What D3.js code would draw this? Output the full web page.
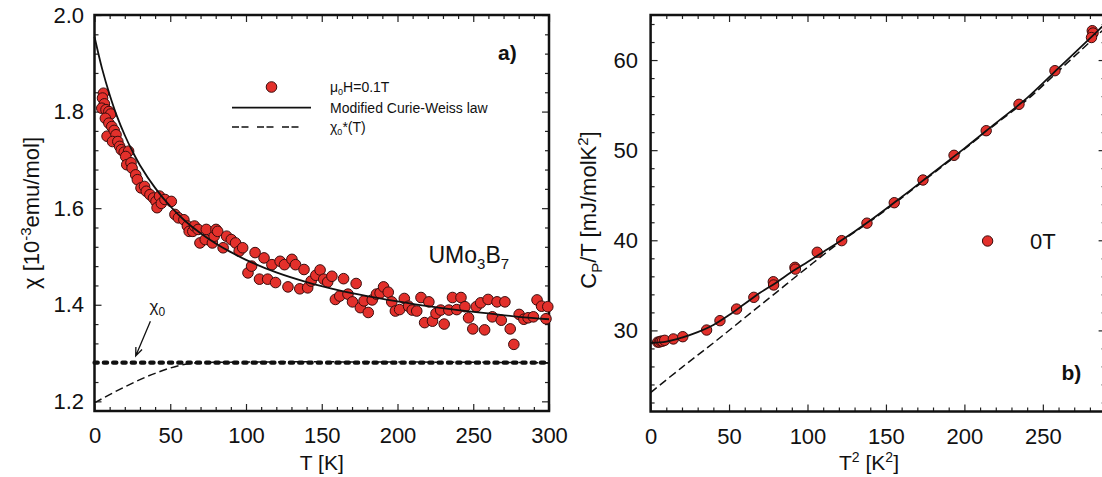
<!DOCTYPE html>
<html>
<head>
<meta charset="utf-8">
<script src="https://cdn.jsdelivr.net/npm/d3@7"></script>
<style>
  body { margin: 0; background: #fff; }
  text { font-family: "Liberation Sans", Arial, sans-serif; fill: #111; }
  .frame { fill: none; stroke: #111; stroke-width: 2.5; }
  .tick line { stroke: #222; stroke-width: 1.2; }
  .domain { display: none; }
  .dot { fill: #e3302b; stroke: #3a0d0d; stroke-width: 1; }
  .fit { fill: none; stroke: #111; stroke-width: 1.8; }
  .dash { fill: none; stroke: #111; stroke-width: 1.5; stroke-dasharray: 8,4; }
</style>
</head>
<body>
<svg width="1102" height="477"></svg>
<script>
// ---- panel a) chi(T)
var chiTemps = [5.9,5.3,6.5,4.8,7.6,9.5,10.7,7.2,9.5,11.4,8.3,13.0,14.2,11.9,15.4,16.6,17.7,19.6,22.5,20.6,
  21.3,24.1,24.8,27.2,28.3,30.7,33.0,34.2,36.6,38.9,40.6,42.9,41.3,44.1,46.5,50.7,53.1,55.4,59.0,61.3,
  62.5,64.9,66.0,68.4,69.6,73.1,73.8,77.8,79.0,80.2,81.3,84.9,87.2,90.3,93.1,95.5,97.8,101.3,103.7,106.0,
  108.9,111.9,114.3,117.1,119.5,122.5,125.4,127.7,130.3,132.7,135.5,138.3,140.7,143.0,146.1,148.9,151.3,153.9,156.7,159.0,
  161.9,164.4,167.3,170.3,172.7,175.5,177.9,180.7,183.3,186.1,188.5,190.8,193.9,196.2,198.6,201.4,204.5,207.3,209.7,212.7,
  215.5,217.9,220.7,223.1,225.4,228.5,230.8,233.9,236.3,239.1,241.9,244.5,246.9,249.7,252.0,254.9,257.5,259.8,262.6,265.7,
  268.5,270.9,274.4,276.8,280.3,283.4,286.2,289.7,292.1,295.1,298.0,299.2];
var chiValues = [1.838,1.828,1.816,1.807,1.804,1.800,1.795,1.786,1.776,1.769,1.749,1.761,1.752,1.738,1.738,1.728,1.721,1.716,1.718,1.707,
  1.690,1.694,1.683,1.669,1.659,1.642,1.645,1.635,1.628,1.621,1.614,1.625,1.601,1.610,1.618,1.614,1.587,1.580,1.576,1.563,
  1.552,1.552,1.563,1.556,1.528,1.535,1.556,1.528,1.542,1.556,1.552,1.518,1.542,1.535,1.528,1.511,1.518,1.466,1.480,1.508,
  1.453,1.497,1.453,1.483,1.446,1.490,1.483,1.437,1.494,1.483,1.433,1.473,1.435,1.449,1.461,1.472,1.453,1.447,1.459,1.411,
  1.418,1.454,1.422,1.406,1.444,1.394,1.408,1.384,1.410,1.422,1.424,1.437,1.426,1.406,1.387,1.390,1.413,1.397,1.389,1.387,
  1.415,1.363,1.406,1.366,1.382,1.389,1.360,1.389,1.415,1.390,1.415,1.396,1.373,1.350,1.396,1.404,1.348,1.411,1.375,1.406,
  1.368,1.406,1.350,1.318,1.380,1.370,1.373,1.375,1.410,1.397,1.371,1.396];

// modified Curie-Weiss curve
var cwTemps = [0,5,10,15,20,25,30,40,50,60,70,80,90,100,120,140,160,180,200,220,240,260,280,300];
var cwValues = [1.955,1.889,1.835,1.789,1.751,1.718,1.689,1.642,1.604,1.573,1.548,1.527,1.509,1.493,1.467,1.447,1.431,1.418,1.407,1.397,1.389,1.382,1.375,1.370];

// chi0*(T)
var starTemps = [0,10,20,30,40,50,60,70,300];
var starValues = [1.197,1.214,1.230,1.245,1.258,1.269,1.277,1.280,1.280];
var chi0 = 1.28;

var xTicksA = [0,50,100,150,200,250,300];
var yTicksA = [1.2,1.4,1.6,1.8,2.0];

// ---- panel b) Cp/T vs T^2
var cpT2 = [4.5,5.5,6.5,7.5,9,14.5,20.5,35.7,44.2,54.8,65.8,78.2,78.4,92.0,92.3,106.2,121.8,137.9,155.3,173.6,193.4,213.9,234.8,257.7,281.5,282.0,281.0];
var cpValues = [28.7,28.7,28.8,28.8,28.9,29.05,29.3,30.04,31.08,32.37,33.67,35.4,35.04,37.0,36.8,38.67,39.96,41.9,44.17,46.69,49.43,52.16,55.09,58.82,63.26,63.0,62.5];

var fitT2 = [0,10,20,30,40,50,60,70,80,90,100,110,120,140,160,180,200,220,240,260,280,290];
var fitValues = [28.6,28.75,29.2,29.8,30.6,31.7,32.95,34.2,35.3,36.5,37.6,38.7,39.8,42.2,44.8,47.5,50.2,53.0,55.8,59.1,62.4,64.1];

var lowT2 = [0,20,40,60,80,100,120,140,160,180,200,220,240,260,280,290];
var lowValues = [23.1,25.9,28.6,31.4,34.2,37.0,39.7,42.1,44.7,47.4,50.1,52.9,55.6,58.8,62.0,63.6];

var xTicksB = [0,50,100,150,200,250];
var yTicksB = [30,40,50,60];

var svg = d3.select('svg');
svg.append('rect').attr('width', 1102).attr('height', 477).attr('fill', '#fff');

function drawFrame(g, x, y, xMajor, xMinor, yMajor, yMinor, yFmt, yPad) {
  var w = x.range()[1], h = y.range()[0];
  function ax(axis, tx, ty, vals, size, fmt, pad) {
    var a = axis.tickValues(vals).tickSize(size).tickPadding(pad || 3).tickFormat(fmt || '');
    return g.append('g').attr('transform', 'translate(' + tx + ',' + ty + ')').call(a)
      .attr('font-size', 22).attr('font-family', null);
  }
  ax(d3.axisBottom(x), 0, h, xMajor, -7, d3.format('d'), 16.5);
  ax(d3.axisBottom(x), 0, h, xMinor, -4);
  ax(d3.axisTop(x), 0, 0, xMajor, -7);
  ax(d3.axisTop(x), 0, 0, xMinor, -4);
  ax(d3.axisLeft(y), 0, 0, yMajor, -7, yFmt, yPad);
  ax(d3.axisLeft(y), 0, 0, yMinor, -4);
  ax(d3.axisRight(y), w, 0, yMajor, -7);
  ax(d3.axisRight(y), w, 0, yMinor, -4);
  g.append('rect').attr('class', 'frame').attr('width', w).attr('height', h);
}

function minors(lo, hi, step, majors) {
  return d3.range(lo, hi + step / 2, step).filter(function(v) {
    return !majors.some(function(m) { return Math.abs(m - v) < step / 10; });
  });
}

// ================= panel a
var ga = svg.append('g').attr('transform', 'translate(94.5,15)');
var xa = d3.scaleLinear().domain([0, 300]).range([0, 454.5]);
var ya = d3.scaleLinear().domain([1.18, 2.0]).range([396, 0]);

drawFrame(ga, xa, ya, xTicksA, minors(0, 300, 10, xTicksA), yTicksA, minors(1.2, 2.0, 0.04, yTicksA),
  d3.format('.1f'), 10.5);

// chi0 thick dotted line
ga.append('line')
  .attr('x1', xa(0)).attr('x2', xa(300)).attr('y1', ya(chi0)).attr('y2', ya(chi0))
  .attr('stroke', '#111').attr('stroke-width', 4.2).attr('stroke-linecap', 'round')
  .attr('stroke-dasharray', '3.3,6');

var lineA = function(xs, ys) {
  return d3.line().curve(d3.curveCatmullRom)
    .x(function(d, i) { return xa(xs[i]); })
    .y(function(d, i) { return ya(ys[i]); })(xs);
};

ga.append('path').attr('class', 'dash').attr('d', lineA(starTemps, starValues)).attr('stroke-dasharray', '7,3.5');

ga.selectAll('circle.dot').data(chiTemps).enter().append('circle')
  .attr('class', 'dot').attr('r', 5.3)
  .attr('cx', function(d) { return xa(d); })
  .attr('cy', function(d, i) { return ya(chiValues[i]); });

ga.append('path').attr('class', 'fit').attr('d', lineA(cwTemps, cwValues));

// arrow to chi0
var ax0 = xa(36.9), ay0 = ya(1.366), ax1 = xa(27.2), ay1 = ya(1.294);
var ang = Math.atan2(ay1 - ay0, ax1 - ax0);
ga.append('path')
  .attr('d', 'M' + ax0 + ',' + ay0 + 'L' + ax1 + ',' + ay1 +
    'M' + (ax1 - 9 * Math.cos(ang - 0.38)) + ',' + (ay1 - 9 * Math.sin(ang - 0.38)) +
    'L' + ax1 + ',' + ay1 +
    'L' + (ax1 - 9 * Math.cos(ang + 0.38)) + ',' + (ay1 - 9 * Math.sin(ang + 0.38)))
  .attr('fill', 'none').attr('stroke', '#111').attr('stroke-width', 1.3);

var t0 = ga.append('text').attr('x', xa(36.3)).attr('y', ya(1.384)).attr('font-size', 17);
t0.append('tspan').text('χ');
t0.append('tspan').attr('font-size', 12).attr('dy', 4).text('0');

var tu = ga.append('text').attr('x', 334).attr('y', 248).attr('font-size', 23);
tu.append('tspan').text('UMo');
tu.append('tspan').attr('font-size', 15).attr('dy', 6).text('3');
tu.append('tspan').attr('dy', -6).text('B');
tu.append('tspan').attr('font-size', 15).attr('dy', 6).text('7');

// legend a
var lg = svg.append('g').attr('font-size', 14);
lg.append('circle').attr('class', 'dot').attr('cx', 271.5).attr('cy', 87).attr('r', 5.3);
lg.append('line').attr('x1', 232).attr('x2', 311).attr('y1', 107.7).attr('y2', 107.7).attr('stroke', '#111').attr('stroke-width', 1.8);
lg.append('line').attr('x1', 232).attr('x2', 300).attr('y1', 127).attr('y2', 127).attr('stroke', '#111').attr('stroke-width', 1.6)
  .attr('stroke-dasharray', '7,2.5,7,8.5');
var l1 = lg.append('text').attr('x', 330).attr('y', 91.5);
l1.append('tspan').text('μ');
l1.append('tspan').attr('font-size', 9).attr('dy', 3).text('0');
l1.append('tspan').attr('dy', -3).text('H=0.1T');
lg.append('text').attr('x', 330).attr('y', 112.5).text('Modified Curie-Weiss law');
var l3 = lg.append('text').attr('x', 330).attr('y', 131.5);
l3.append('tspan').text('χ');
l3.append('tspan').attr('font-size', 9).attr('dy', 3).text('0');
l3.append('tspan').attr('dy', -3).text('*(T)');

svg.append('text').attr('x', 498).attr('y', 60).attr('font-size', 21).attr('font-weight', 'bold').text('a)');

// axis titles a
svg.append('text').attr('x', 321.75).attr('y', 470).attr('font-size', 21).attr('text-anchor', 'middle').text('T [K]');
var yla = svg.append('text').attr('transform', 'translate(39,213) rotate(-90)').attr('font-size', 22).attr('text-anchor', 'middle');
yla.append('tspan').text('χ [10');
yla.append('tspan').attr('font-size', 15).attr('dy', -8).text('-3');
yla.append('tspan').attr('dy', 8).text('emu/mol]');

// ================= panel b
var gb = svg.append('g').attr('transform', 'translate(650.6,15)');
var xb = d3.scaleLinear().domain([0, 290]).range([0, 455]);
var yb = d3.scaleLinear().domain([21, 65]).range([396.5, 0]);

gb.append('clipPath').attr('id', 'clipb').append('rect').attr('width', 455).attr('height', 396.5);

drawFrame(gb, xb, yb, xTicksB, minors(0, 290, 10, xTicksB), yTicksB, minors(22, 64, 2, yTicksB), d3.format('d'), 12.6);

var lineB = function(xs, ys) {
  return d3.line().curve(d3.curveCatmullRom)
    .x(function(d, i) { return xb(xs[i]); })
    .y(function(d, i) { return yb(ys[i]); })(xs);
};
var inner = gb.append('g').attr('clip-path', 'url(#clipb)');
inner.append('path').attr('class', 'dash').attr('d', lineB(lowT2, lowValues));

gb.selectAll('circle.dot').data(cpT2).enter().append('circle')
  .attr('class', 'dot').attr('r', 5.2)
  .attr('cx', function(d) { return xb(d); })
  .attr('cy', function(d, i) { return yb(cpValues[i]); });

gb.append('g').attr('clip-path', 'url(#clipb)')
  .append('path').attr('class', 'fit').attr('d', lineB(fitT2, fitValues));

// legend b
svg.append('circle').attr('class', 'dot').attr('cx', 987.6).attr('cy', 241).attr('r', 5.2);
svg.append('text').attr('x', 1030).attr('y', 249).attr('font-size', 22).text('0T');
svg.append('text').attr('x', 1061.5).attr('y', 380).attr('font-size', 21).attr('font-weight', 'bold').text('b)');

var xlb = svg.append('text').attr('x', 869).attr('y', 470).attr('font-size', 21).attr('text-anchor', 'middle');
xlb.append('tspan').text('T');
xlb.append('tspan').attr('font-size', 14).attr('dy', -8).text('2');
xlb.append('tspan').attr('dy', 8).text(' [K');
xlb.append('tspan').attr('font-size', 14).attr('dy', -8).text('2');
xlb.append('tspan').attr('dy', 8).text(']');

var ylb = svg.append('text').attr('transform', 'translate(596,210) rotate(-90)').attr('font-size', 22).attr('text-anchor', 'middle');
ylb.append('tspan').text('C');
ylb.append('tspan').attr('font-size', 15).attr('dy', 6).text('P');
ylb.append('tspan').attr('dy', -6).text('/T [mJ/molK');
ylb.append('tspan').attr('font-size', 15).attr('dy', -8).text('2');
ylb.append('tspan').attr('dy', 8).text(']');
</script>
</body>
</html>
